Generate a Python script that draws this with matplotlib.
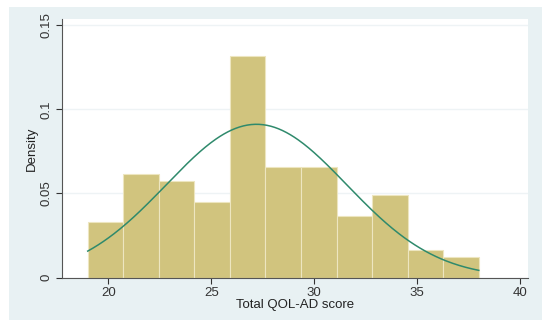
import matplotlib.pyplot as plt
import matplotlib.patches as mpatches
import numpy as np

plt.rcParams['font.family'] = ['Liberation Sans', 'DejaVu Sans']

# histogram bins (Total QOL-AD score) and densities
binEdges = [19.0, 20.727, 22.455, 24.182, 25.909, 27.636, 29.364, 31.091, 32.818, 34.545, 36.273, 38.0]
densidades = [0.0329, 0.0616, 0.0576, 0.0451, 0.1316, 0.0659, 0.0659, 0.0368, 0.0493, 0.0163, 0.0121]

# normal curve fitted to the scores
media = 27.2
desvio = 4.38

xTicks = [20, 25, 30, 35, 40]
yTicks = [0, 0.05, 0.1, 0.15]
yTickLabels = ['0', '0.05', '0.1', '0.15']

fig = plt.figure(figsize=(5.5, 3.29), dpi=100)
fig.patch.set_facecolor('white')

# painel de fundo estilo Stata
painel = mpatches.Rectangle((9 / 550, 9 / 329), 533 / 550, 313 / 329,
                            transform=fig.transFigure, facecolor='#e8f1f3',
                            edgecolor='none', zorder=-1)
fig.patches.append(painel)

ax = fig.add_axes([62 / 550, 51.3 / 329, 466 / 550, 258.7 / 329])
ax.set_zorder(1)
ax.set_facecolor('white')

larguras = np.diff(binEdges)
ax.bar(binEdges[:-1], densidades, width=larguras, align='edge',
       color='#d1c47e', edgecolor='#ede6c0', linewidth=0.8, zorder=2)

xs = np.linspace(binEdges[0], binEdges[-1], 300)
ys = np.exp(-(xs - media) ** 2 / (2 * desvio ** 2)) / (desvio * np.sqrt(2 * np.pi))
ax.plot(xs, ys, color='#2f8a6c', linewidth=1.1, zorder=3)

ax.set_xlim(17.75, 40.39)
ax.set_ylim(0, 0.1536)
ax.set_xticks(xTicks)
ax.set_yticks(yTicks)
ax.set_yticklabels(yTickLabels, rotation=90, va='center')
ax.tick_params(axis='both', labelsize=9.5, colors='#333333', length=4,
               width=0.8, direction='out')
ax.tick_params(axis='y', pad=3)
ax.tick_params(axis='x', pad=3)
ax.yaxis.grid(True, color='#eef3f5', linewidth=1.0)
ax.set_axisbelow(True)

for lado in ['top', 'right']:
    ax.spines[lado].set_visible(False)
for lado in ['left', 'bottom']:
    ax.spines[lado].set_color('#555555')
    ax.spines[lado].set_linewidth(0.8)

ax.set_xlabel('Total QOL-AD score', fontsize=9.5, color='#222222', labelpad=0)
ax.set_ylabel('Density', fontsize=9.5, color='#222222', labelpad=2)

plt.savefig('out.png', dpi=100)
plt.close()
